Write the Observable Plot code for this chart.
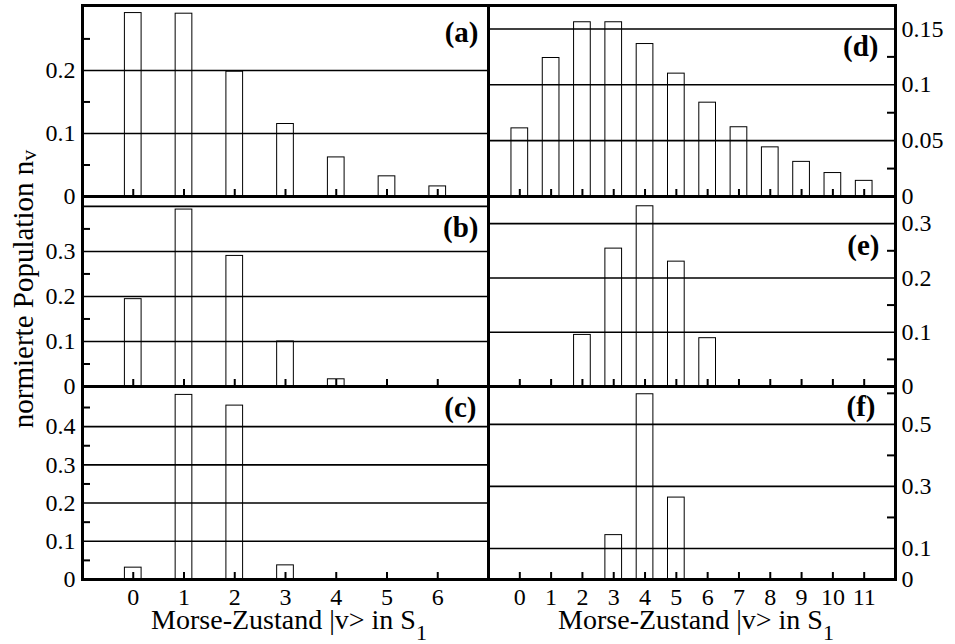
<!DOCTYPE html>
<html>
<head>
<meta charset="utf-8">
<script src="https://cdn.jsdelivr.net/npm/d3@7"></script>
<script src="https://cdn.jsdelivr.net/npm/@observablehq/plot@0.6"></script>
<style>
  html, body { margin: 0; padding: 0; background: white; }
  #chart { position: relative; width: 955px; height: 644px; font-family: "Liberation Serif", "DejaVu Serif", serif; color: black; }
  #chart .panel { position: absolute; }
  .xtitle { position: absolute; font-size: 28px; white-space: nowrap; transform: translateX(-50%); line-height: 0.5; }
  .xtitle sub { font-size: 22px; vertical-align: -11px; line-height: 0; }
  .ytitle { position: absolute; font-size: 29px; white-space: nowrap; transform: translate(-50%, -50%) rotate(-90deg); line-height: 1; }
  .ytitle sub { font-size: 22px; vertical-align: -3px; line-height: 0; }
</style>
</head>
<body>
<div id="chart"></div>
<script>
// ---- data ----
const xTicksLeft = [0, 1, 2, 3, 4, 5, 6];
const xTicksRight = [0, 1, 2, 3, 4, 5, 6, 7, 8, 9, 10, 11];

const statesA = [0, 1, 2, 3, 4, 5, 6];
const popA = [0.291, 0.290, 0.198, 0.115, 0.062, 0.032, 0.016];
const statesB = [0, 1, 2, 3, 4];
const popB = [0.194, 0.393, 0.290, 0.100, 0.016];
const statesC = [0, 1, 2, 3];
const popC = [0.031, 0.483, 0.455, 0.037];
const statesD = [0, 1, 2, 3, 4, 5, 6, 7, 8, 9, 10, 11];
const popD = [0.061, 0.124, 0.156, 0.156, 0.1365, 0.110, 0.084, 0.062, 0.044, 0.031, 0.021, 0.014];
const statesE = [2, 3, 4, 5, 6];
const popE = [0.095, 0.254, 0.332, 0.230, 0.089];
const statesF = [3, 4, 5];
const popF = [0.143, 0.597, 0.264];

const labelsA = [0, 0.1, 0.2], gridA = [0.1, 0.2], minorA = [0.05, 0.15, 0.25];
const labelsB = [0, 0.1, 0.2, 0.3], gridB = [0.1, 0.2, 0.3, 0.4], minorB = [0.05, 0.15, 0.25, 0.35];
const labelsC = [0, 0.1, 0.2, 0.3, 0.4], gridC = [0.1, 0.2, 0.3, 0.4], minorC = [0.05, 0.15, 0.25, 0.35, 0.45];
const labelsD = [0, 0.05, 0.1, 0.15], gridD = [0.05, 0.1, 0.15], minorD = [0.025, 0.075, 0.125];
const labelsE = [0, 0.1, 0.2, 0.3], gridE = [0.1, 0.2, 0.3], minorE = [0.05, 0.15, 0.25];
const labelsF = [0, 0.1, 0.3, 0.5], gridF = [0.1, 0.3, 0.5], minorF = [0.2, 0.4, 0.6];

const panelNames = ["(a)", "(b)", "(c)", "(d)", "(e)", "(f)"];
const xTitle = "Morse-Zustand |v> in S";
const xTitleSub = "1";
const yTitle = "normierte Population n";
const yTitleSub = "v";

// ---- layout ----
const colX = [[82, 488], [488, 895]];
const rowY = [[5, 196], [196, 386], [386, 579]];
const yMax = [[0.303, 0.171], [0.422, 0.35], [0.505, 0.622]];

const panels = [
  {col: 0, row: 0, states: statesA, pop: popA, labels: labelsA, grid: gridA, minor: minorA, name: panelNames[0], dx: -10, dy: 16},
  {col: 0, row: 1, states: statesB, pop: popB, labels: labelsB, grid: gridB, minor: minorB, name: panelNames[1], dx: -10, dy: 20},
  {col: 0, row: 2, states: statesC, pop: popC, labels: labelsC, grid: gridC, minor: minorC, name: panelNames[2], dx: -12, dy: 10},
  {col: 1, row: 0, states: statesD, pop: popD, labels: labelsD, grid: gridD, minor: minorD, name: panelNames[3], dx: -17, dy: 30},
  {col: 1, row: 1, states: statesE, pop: popE, labels: labelsE, grid: gridE, minor: minorE, name: panelNames[4], dx: -16, dy: 38},
  {col: 1, row: 2, states: statesF, pop: popF, labels: labelsF, grid: gridF, minor: minorF, name: panelNames[5], dx: -20, dy: 9}
];

const chart = document.getElementById("chart");
const fmt = d => String(d);

for (const p of panels) {
  const [x0, x1] = colX[p.col];
  const [y0, y1] = rowY[p.row];
  const plotW = x1 - x0, plotH = y1 - y0;
  const left = p.col === 0;
  const bottom = p.row === 2;
  const mL = left ? 82 : 0, mR = left ? 0 : 60;
  const mT = p.row === 0 ? 5 : 0, mB = bottom ? 65 : 0;
  const xTicks = left ? xTicksLeft : xTicksRight;
  const xDomain = left ? [-1, 7] : [-1, 12];
  const unitPx = plotW / (xDomain[1] - xDomain[0]);
  const barInset = (unitPx - 16.7) / 2;
  const data = p.states.map((s, i) => ({v: s, n: p.pop[i]}));

  const marks = [
    Plot.rectY(data, {x1: d => d.v - 0.5, x2: d => d.v + 0.5, y: "n", insetLeft: barInset, insetRight: barInset, fill: "none", stroke: "black", strokeWidth: 1}),
    Plot.ruleY(p.grid, {stroke: "black", strokeWidth: 1.6}),
    Plot.ruleY(p.minor, left ? {insetRight: plotW - 8, stroke: "black", strokeWidth: 2} : {insetLeft: plotW - 8, stroke: "black", strokeWidth: 2}),
    Plot.ruleX(xTicks, {insetTop: plotH - 7, stroke: "black", strokeWidth: 2}),
    Plot.axisY({anchor: left ? "left" : "right", ticks: p.labels, tickSize: 0, tickPadding: left ? 7 : 6, tickFormat: fmt, fontSize: 24, label: null}),
    Plot.text([p.name], {frameAnchor: "top-right", dx: p.dx, dy: p.dy, fontWeight: "bold", fontSize: 29, fill: "black"}),
    Plot.frame({stroke: "black", strokeWidth: 3})
  ];
  if (bottom) marks.push(Plot.axisX({ticks: xTicks, tickSize: 0, tickPadding: 8, tickFormat: fmt, fontSize: 24, label: null}));

  const svg = Plot.plot({
    width: mL + plotW + mR,
    height: mT + plotH + mB,
    marginLeft: mL, marginRight: mR, marginTop: mT, marginBottom: mB,
    x: {domain: xDomain, axis: null},
    y: {domain: [0, yMax[p.row][p.col]], axis: null},
    style: {background: "transparent", overflow: "visible", fontFamily: "Liberation Serif", color: "black"},
    marks
  });
  svg.classList.add("panel");
  svg.style.left = (x0 - mL) + "px";
  svg.style.top = (y0 - mT) + "px";
  svg.style.maxWidth = "none";
  chart.appendChild(svg);
}

// axis titles
for (const cx of [289, 696]) {
  const t = document.createElement("div");
  t.className = "xtitle";
  t.style.left = cx + "px";
  t.style.top = "613px";
  t.appendChild(document.createTextNode(xTitle));
  const s = document.createElement("sub");
  s.textContent = xTitleSub;
  t.appendChild(s);
  chart.appendChild(t);
}
const yt = document.createElement("div");
yt.className = "ytitle";
yt.style.left = "23px";
yt.style.top = "289px";
yt.appendChild(document.createTextNode(yTitle));
const ys = document.createElement("sub");
ys.textContent = yTitleSub;
yt.appendChild(ys);
chart.appendChild(yt);
</script>
</body>
</html>
